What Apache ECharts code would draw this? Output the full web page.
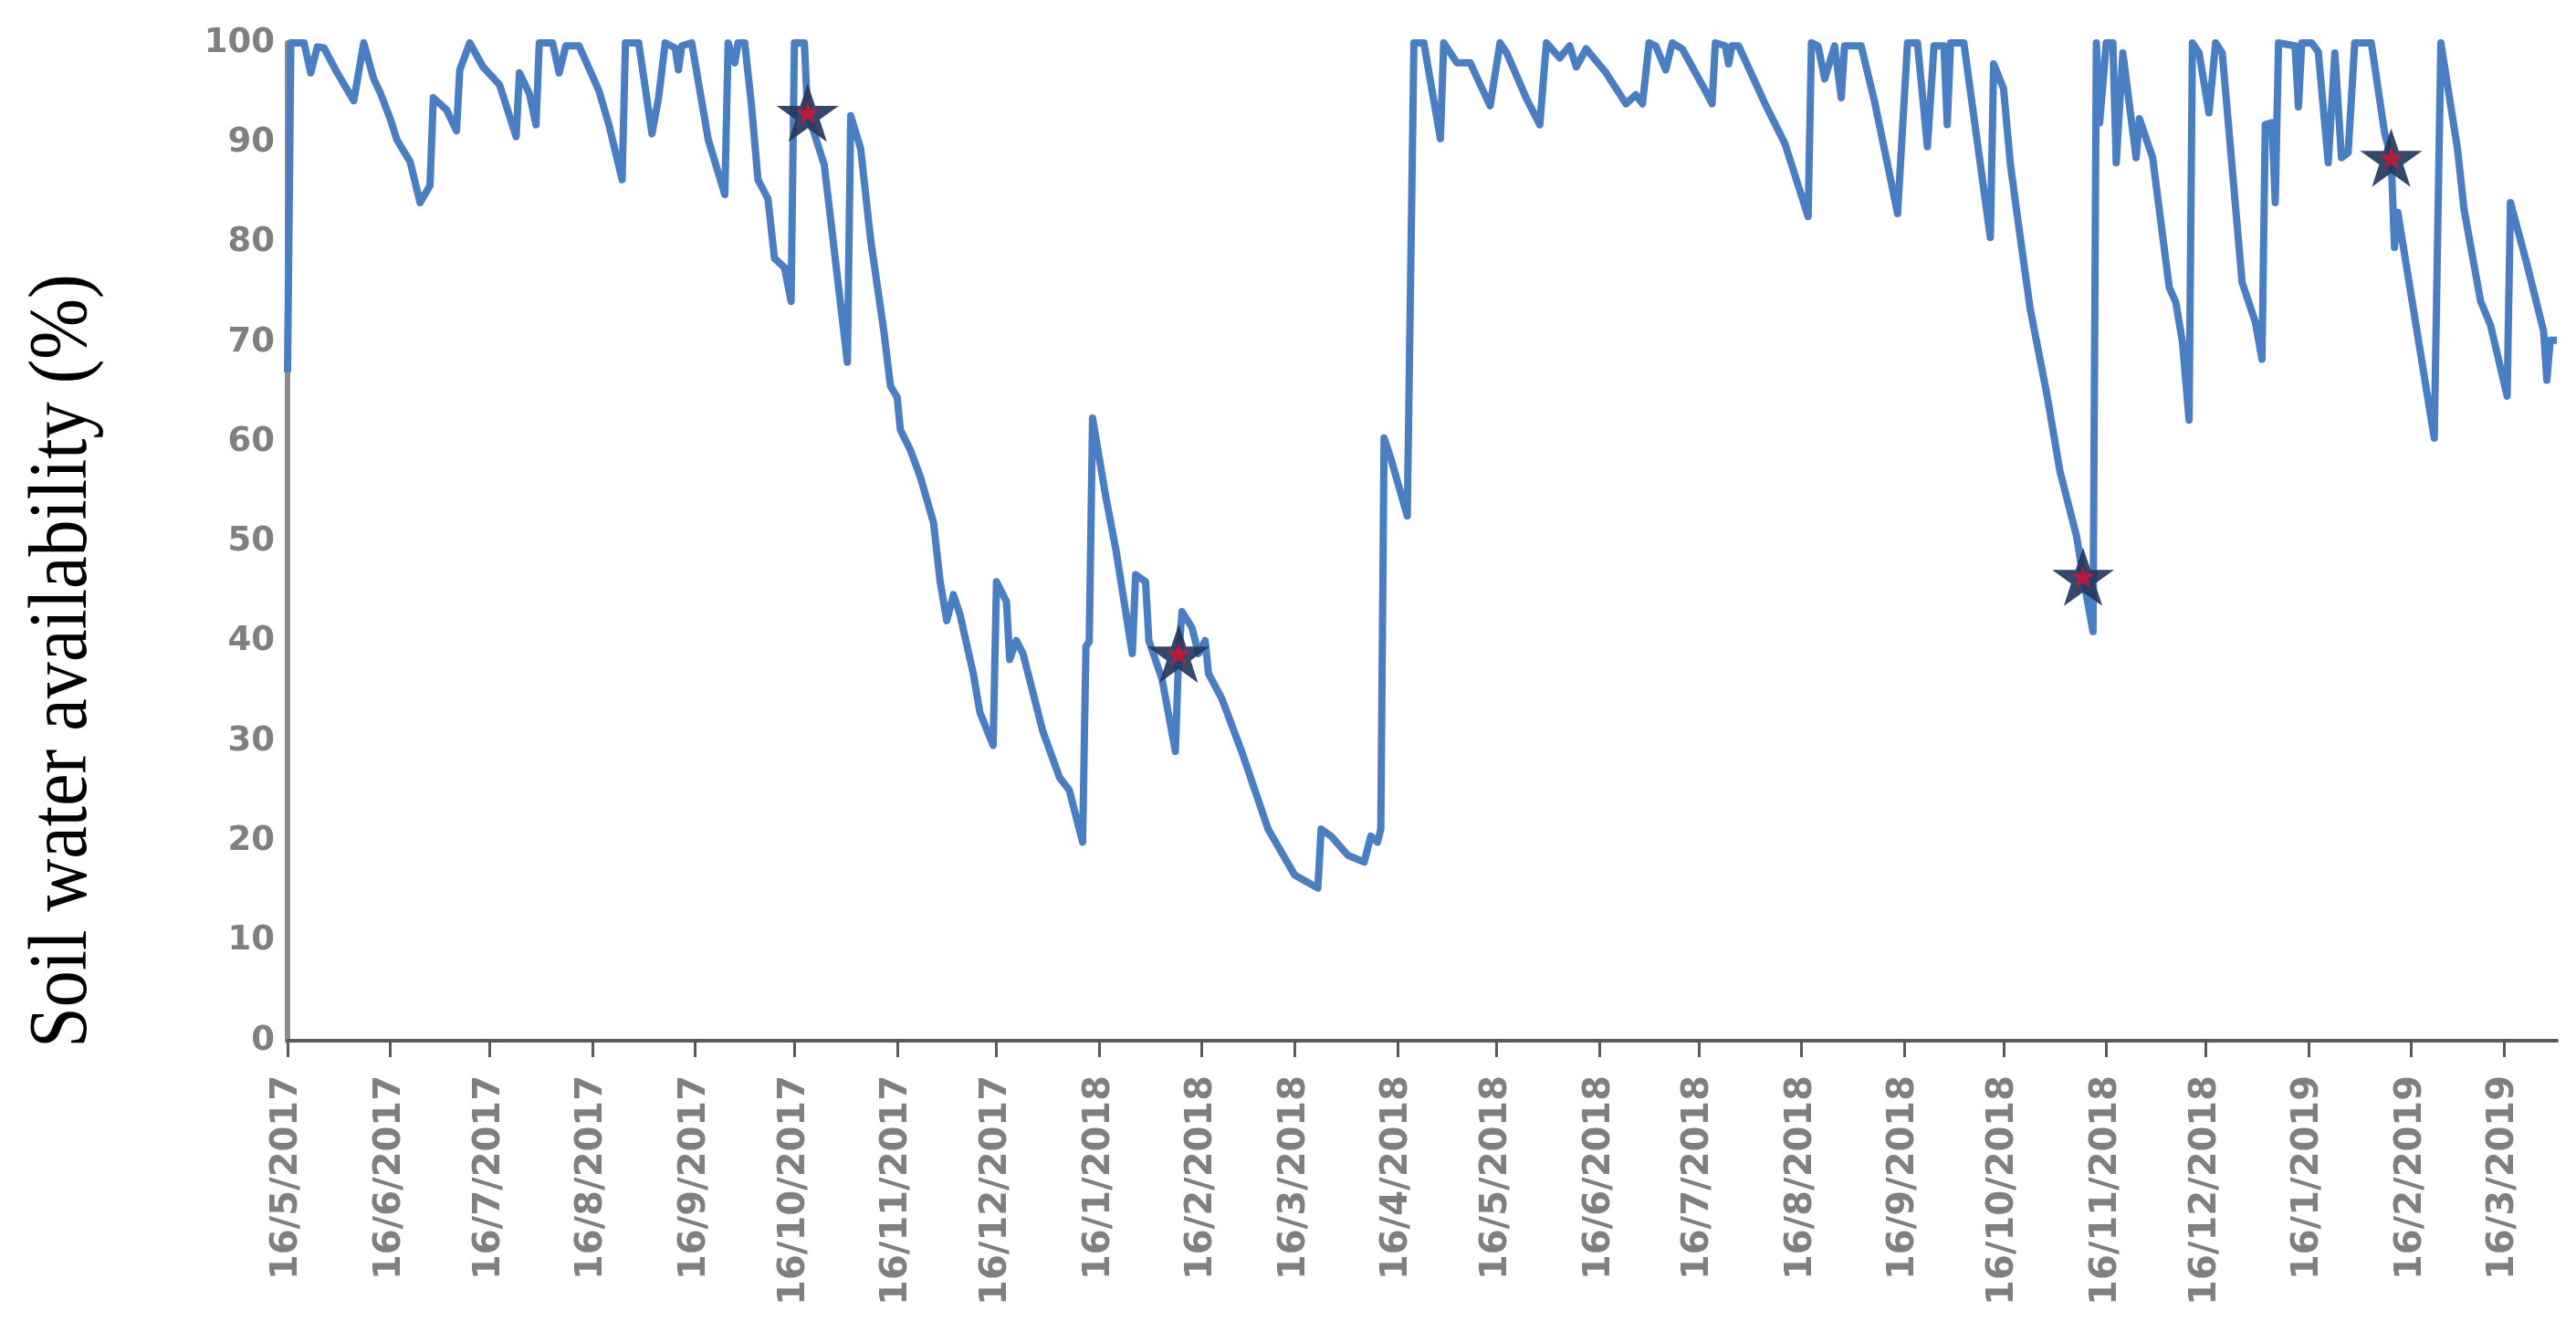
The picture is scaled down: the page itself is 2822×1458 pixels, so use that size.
<!DOCTYPE html>
<html>
<head>
<meta charset="utf-8">
<script src="https://cdn.jsdelivr.net/npm/echarts@6/dist/echarts.min.js"></script>
<style>
html,body{margin:0;padding:0;background:#fff;}
#chart{width:2822px;height:1458px;}
</style>
</head>
<body>
<div id="chart"></div>
<script>
// Soil water availability (%) series: dates and values
const dates = [
'2017-05-16','2017-05-17','2017-05-21','2017-05-23','2017-05-25','2017-05-27','2017-05-31','2017-06-05','2017-06-08','2017-06-11',
'2017-06-13','2017-06-16','2017-06-18','2017-06-22','2017-06-25','2017-06-28','2017-06-29','2017-07-03','2017-07-06','2017-07-07',
'2017-07-10','2017-07-14','2017-07-19','2017-07-24','2017-07-25','2017-07-28','2017-07-30','2017-07-31','2017-08-04','2017-08-06',
'2017-08-08','2017-08-12','2017-08-18','2017-08-21','2017-08-25','2017-08-26','2017-08-30','2017-09-03','2017-09-05','2017-09-07',
'2017-09-10','2017-09-11','2017-09-12','2017-09-15','2017-09-20','2017-09-25','2017-09-26','2017-09-28','2017-09-29','2017-10-01',
'2017-10-03','2017-10-05','2017-10-08','2017-10-10','2017-10-13','2017-10-15','2017-10-16','2017-10-19','2017-10-20','2017-10-25',
'2017-11-01','2017-11-02','2017-11-05','2017-11-08','2017-11-12','2017-11-14','2017-11-16','2017-11-17','2017-11-20','2017-11-23',
'2017-11-27','2017-11-29','2017-12-01','2017-12-03','2017-12-05','2017-12-09','2017-12-11','2017-12-15','2017-12-16','2017-12-19',
'2017-12-20','2017-12-22','2017-12-24','2017-12-28','2017-12-30','2018-01-04','2018-01-07','2018-01-11','2018-01-12','2018-01-13',
'2018-01-14','2018-01-18','2018-01-21','2018-01-26','2018-01-27','2018-01-30','2018-01-31','2018-02-04','2018-02-08','2018-02-09',
'2018-02-10','2018-02-13','2018-02-15','2018-02-17','2018-02-18','2018-02-22','2018-02-28','2018-03-08','2018-03-16','2018-03-23',
'2018-03-24','2018-03-27','2018-04-01','2018-04-06','2018-04-08','2018-04-10','2018-04-11','2018-04-12','2018-04-14','2018-04-19',
'2018-04-21','2018-04-24','2018-04-29','2018-04-30','2018-05-04','2018-05-08','2018-05-14','2018-05-17','2018-05-19','2018-05-25',
'2018-05-29','2018-05-31','2018-06-04','2018-06-07','2018-06-09','2018-06-12','2018-06-18','2018-06-24','2018-06-27','2018-06-29',
'2018-07-01','2018-07-03','2018-07-06','2018-07-08','2018-07-11','2018-07-18','2018-07-20','2018-07-21','2018-07-24','2018-07-25',
'2018-07-26','2018-07-28','2018-08-05','2018-08-11','2018-08-18','2018-08-19','2018-08-21','2018-08-23','2018-08-26','2018-08-28',
'2018-08-29','2018-09-03','2018-09-07','2018-09-11','2018-09-14','2018-09-17','2018-09-20','2018-09-23','2018-09-25','2018-09-28',
'2018-09-29','2018-09-30','2018-10-04','2018-10-12','2018-10-13','2018-10-16','2018-10-18','2018-10-20','2018-10-24','2018-10-29',
'2018-11-02','2018-11-07','2018-11-09','2018-11-12','2018-11-13','2018-11-14','2018-11-16','2018-11-18','2018-11-19','2018-11-21',
'2018-11-25','2018-11-26','2018-11-30','2018-12-05','2018-12-07','2018-12-09','2018-12-11','2018-12-12','2018-12-14','2018-12-17',
'2018-12-19','2018-12-21','2018-12-27','2018-12-31','2019-01-02','2019-01-03','2019-01-05','2019-01-06','2019-01-07','2019-01-12',
'2019-01-13','2019-01-14','2019-01-17','2019-01-19','2019-01-22','2019-01-24','2019-01-26','2019-01-28','2019-01-30','2019-02-04',
'2019-02-08','2019-02-10','2019-02-11','2019-02-12','2019-02-23','2019-02-25','2019-03-02','2019-03-04','2019-03-09','2019-03-12',
'2019-03-17','2019-03-18','2019-03-23','2019-03-28','2019-03-29','2019-03-30','2019-04-01'
];
const values = [
67,100,100,97,99.6,99.5,97,94.2,100,96.4,
95,92.4,90.3,88.1,84,85.7,94.5,93.3,91.2,97.3,
100,97.6,95.8,90.6,97,94.9,91.8,100,100,97,
99.7,99.7,95.2,91.8,86.3,100,100,90.9,94.5,100,
99.5,97.3,99.7,100,90.3,84.8,100,98,100,100,
93.9,86.3,84.4,78.4,77.5,74.1,100,100,93,87.8,
68,92.7,89.4,80.3,71.1,65.6,64.5,61.2,59.2,56.5,
51.9,46,42.1,44.7,42.7,36.8,32.9,29.6,46,44,
38.2,40.1,38.8,33.6,31,26.4,25.1,19.9,39.5,40,
62.4,54.5,49.3,38.8,46.7,46,40.1,36.2,29,38.8,
43,41.4,38.8,40.1,36.8,34.3,29,21.2,16.6,15.3,
21.2,20.5,18.6,17.9,20.5,19.9,21.2,60.4,58.4,52.6,
100,100,90.4,100,98,98,93.7,100,99,94.4,
91.8,100,98.5,99.7,97.6,99.4,97,93.9,94.8,93.9,
100,99.7,97.3,100,99.4,95.2,93.9,100,99.7,97.9,
99.7,99.7,93.9,89.9,82.6,100,99.7,96.4,99.7,94.5,
99.7,99.7,94.2,87.8,82.9,100,100,89.6,99.7,99.7,
91.8,100,100,80.5,97.9,95.4,88,83,73.4,64.9,
57.1,50.6,46.5,41,100,92,100,100,88,99,
88.5,92.4,88.5,75.5,74,70,62.2,100,99,93,
100,99,76,72,68.3,91.8,92,84,100,99.7,
93.6,100,100,99.1,88,99,88.5,89,100,100,
91,88.5,79.5,83,60.4,100,89.4,83.3,74.1,71.7,
64.6,84,77.8,71.1,66.2,70.2,70.2
];
// Star markers
const starDates = ['2017-10-20','2018-02-09','2018-11-09','2019-02-10'];
const starValues = [93,38.8,46.5,88.5];
// X tick labels (16th of each month)
const tickDates = [
'2017-05-16','2017-06-16','2017-07-16','2017-08-16','2017-09-16','2017-10-16','2017-11-16','2017-12-16',
'2018-01-16','2018-02-16','2018-03-16','2018-04-16','2018-05-16','2018-06-16','2018-07-16','2018-08-16',
'2018-09-16','2018-10-16','2018-11-16','2018-12-16','2019-01-16','2019-02-16','2019-03-16'
];
const yTitle = 'Soil water availability (%)';

function ts(s){const p=s.split('-').map(Number);return new Date(p[0],p[1]-1,p[2]).getTime();}
const tickTs = tickDates.map(ts);
const lineData = dates.map((d,i)=>[ts(d),values[i]]);
const starData = starDates.map((d,i)=>[ts(d),starValues[i]]);
const STAR = 'path://M50,0 L61.8,35.1 L98.8,35.1 L68.9,56.8 L80.3,91.9 L50,70.2 L19.7,91.9 L31.1,56.8 L1.2,35.1 L38.2,35.1 Z';

const chart = echarts.init(document.getElementById('chart'), null, {renderer:'canvas'});
chart.setOption({
  animation:false,
  backgroundColor:'#ffffff',
  grid:{left:315,right:21,top:47,bottom:318,containLabel:false},
  xAxis:{
    type:'value',
    min:ts('2017-05-16'),
    max:ts('2019-04-01'),
    scale:true,
    splitLine:{show:false},
    axisLine:{show:true,lineStyle:{color:'#595959',width:4}},
    axisTick:{show:true,customValues:tickTs,length:18,lineStyle:{color:'#595959',width:3}},
    axisLabel:{
      customValues:tickTs,
      rotate:90,
      margin:38,
      color:'#7f7f7f',
      fontFamily:'DejaVu Sans',
      fontSize:40,
      fontWeight:'bold',
      formatter:function(v){const d=new Date(v);return d.getDate()+'/'+(d.getMonth()+1)+'/'+d.getFullYear();}
    }
  },
  yAxis:{
    type:'value',
    min:0,max:100,interval:10,
    splitLine:{show:false},
    axisLine:{show:true,lineStyle:{color:'#8c8c8c',width:6}},
    axisTick:{show:false},
    axisLabel:{
      margin:14,
      color:'#7f7f7f',
      fontFamily:'DejaVu Sans',
      fontSize:37,
      fontWeight:'bold'
    }
  },
  graphic:[{
    type:'text',
    x:70,y:724,
    rotation:Math.PI/2,
    scaleX:0.89,
    style:{
      text:yTitle,
      fill:'#000',
      font:'90px "Liberation Serif", "Times New Roman", serif',
      textAlign:'center',
      textVerticalAlign:'middle'
    }
  }],
  series:[
    {
      type:'line',
      data:lineData,
      showSymbol:false,
      symbol:'none',
      lineStyle:{color:'#4a7ec2',width:8,join:'round'},
      z:2
    },
    {
      type:'scatter',
      data:starData,
      symbol:STAR,
      symbolKeepAspect:true,
      symbolSize:68,
      itemStyle:{color:'#24375e',opacity:0.92},
      z:3
    },
    {
      type:'scatter',
      data:starData,
      symbol:STAR,
      symbolKeepAspect:true,
      symbolSize:26,
      itemStyle:{color:'#e0102f'},
      z:4
    }
  ]
});
</script>
</body>
</html>
